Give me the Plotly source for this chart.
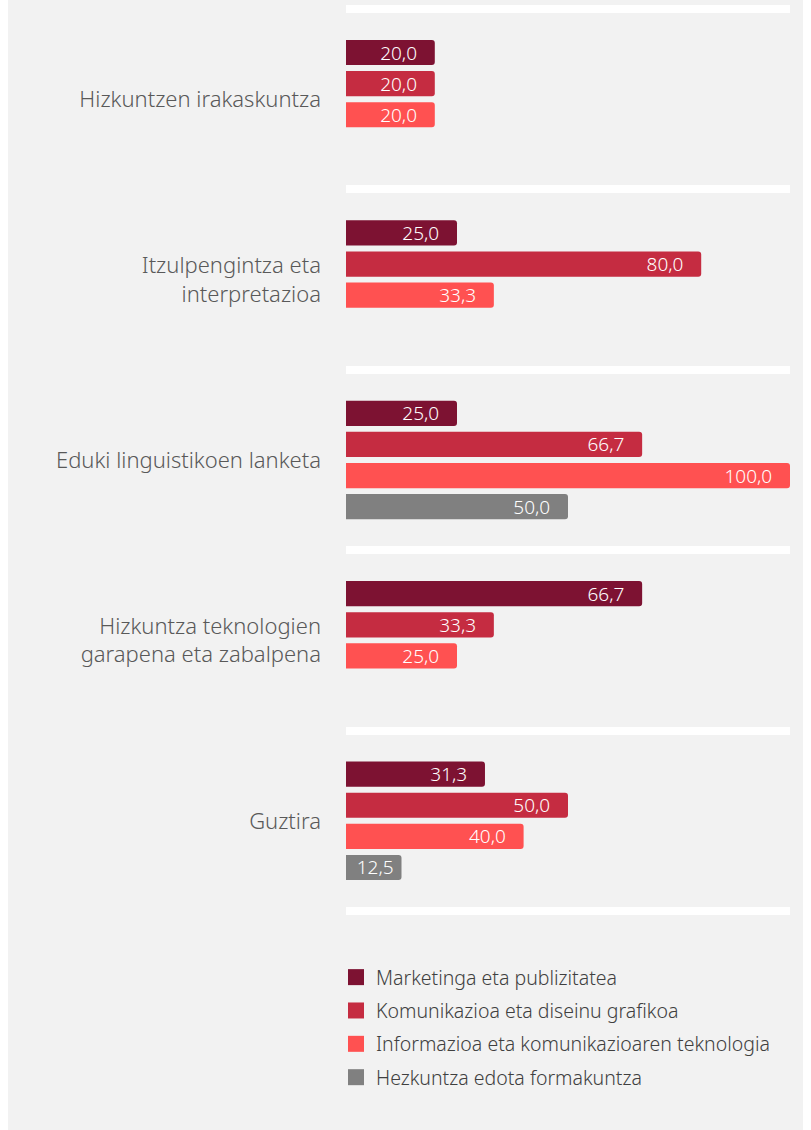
import plotly.graph_objects as go

# categorias (de arriba abajo)
categorias = [
    'Hizkuntzen irakaskuntza',
    'Itzulpengintza eta<br>interpretazioa',
    'Eduki linguistikoen lanketa',
    'Hizkuntza teknologien<br>garapena eta zabalpena',
    'Guztira',
]

series = [
    'Marketinga eta publizitatea',
    'Komunikazioa eta diseinu grafikoa',
    'Informazioa eta komunikazioaren teknologia',
    'Hezkuntza edota formakuntza',
]

marketinga = [20.0, 25.0, 25.0, 66.7, 31.3]
komunikazioa = [20.0, 80.0, 66.7, 33.3, 50.0]
informazioa = [20.0, 33.3, 100.0, 25.0, 40.0]
hezkuntza = [None, None, 50.0, None, 12.5]

colores = ['#7d1232', '#c52c41', '#ff5151', '#808080']

FONT = 'Noto Sans, Open Sans, sans-serif'


def etiqueta(v):
    # coma decimal + un poco de aire al final de la barra
    if v is None:
        return ''
    pad = '\u00a0' * (3 if v >= 20 else 1)
    return f'{v:.1f}'.replace('.', ',') + pad


fig = go.Figure()
for nombre, valores, color in zip(series, [marketinga, komunikazioa, informazioa, hezkuntza], colores):
    fig.add_trace(go.Bar(
        y=categorias, x=valores, name=nombre, orientation='h',
        marker=dict(color=color, line=dict(width=0)),
        text=[etiqueta(v) for v in valores],
        textposition='inside', insidetextanchor='end', constraintext='none',
        textfont=dict(color='white', size=19, family=FONT, weight=300),
        showlegend=False, hoverinfo='x+name',
    ))
    # entrada de leyenda con cuadrado grande
    fig.add_trace(go.Scatter(
        x=[None], y=[None], mode='markers', name=nombre,
        marker=dict(symbol='square', size=18, color=color),
        legendgroup=nombre,
    ))

# un poco de margen extra para que se vean las lineas de los bordes
extra = 5 / 180.4
n = len(categorias)

fig.update_layout(
    width=811, height=1130,
    margin=dict(l=338, r=29, t=4, b=214),
    paper_bgcolor='#f2f2f2', plot_bgcolor='#f2f2f2',
    font=dict(family=FONT, weight=300),
    barmode='group', bargap=0.31, bargroupgap=0.19,
    barcornerradius=3,
    legend=dict(
        x=-0.0225, xanchor='left', y=-0.046, yanchor='top',
        font=dict(size=19.5, color='#404040', family=FONT, weight=300),
        tracegroupgap=5, traceorder='grouped', itemwidth=30,
        bgcolor='rgba(0,0,0,0)',
    ),
    # la ultima linea de separacion (plotly no la pinta en el borde)
    shapes=[dict(type='line', xref='paper', x0=0, x1=1, yref='y',
                 y0=n - 0.5, y1=n - 0.5, layer='below',
                 line=dict(color='white', width=8))],
)

fig.update_xaxes(range=[0, 100], visible=False, showgrid=False, zeroline=False)
fig.update_yaxes(
    range=[n - 0.5 + extra, -0.5 - extra], tickson='boundaries',
    showgrid=True, gridcolor='white', gridwidth=8,
    ticks='', showline=False, zeroline=False,
    tickfont=dict(size=22, color='#595959', family=FONT, weight=300),
    ticklabelstandoff=24,
)

fig.write_html('out.html', post_script="document.body.style.marginTop='0px';")
